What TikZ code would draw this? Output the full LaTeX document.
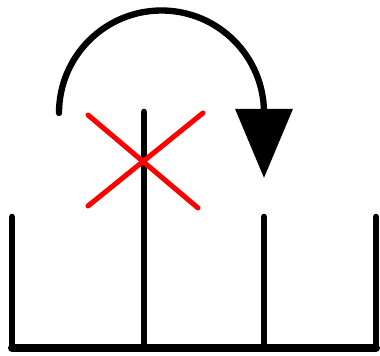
\documentclass[tikz,border=0pt]{standalone}
\usetikzlibrary{arrows.meta}

\begin{document}
\begin{tikzpicture}[x=0.03cm,y=0.03cm,line cap=round,line join=round,
  >={Triangle[length=59pt,width=48pt]},
  post/.style={line width=5.6pt},
  cross/.style={red,line width=4.3pt}]
\useasboundingbox (0,0) rectangle (380,356);
\coordinate (base0) at (12,8);
\coordinate (base1) at (144,8);
\coordinate (base2) at (264,8);
\coordinate (base3) at (376,8);
\draw[line width=6.8pt] (base0) -- (base3);
\draw[post] (base0) -- (12,139);
\draw[post] (base1) -- (144,244);
\draw[post] (base2) -- (264,139);
\draw[post] (base3) -- (376,139);
\draw[cross] (88,241) -- (198,148);
\draw[cross] (203,243) -- (88,150);
\coordinate (start) at (59,243);
\coordinate (tip) at (264,178);
\draw[line width=5.4pt,->] (start) arc[start angle=180,end angle=0,radius=3.075cm] -- (tip);
\end{tikzpicture}
\end{document}
